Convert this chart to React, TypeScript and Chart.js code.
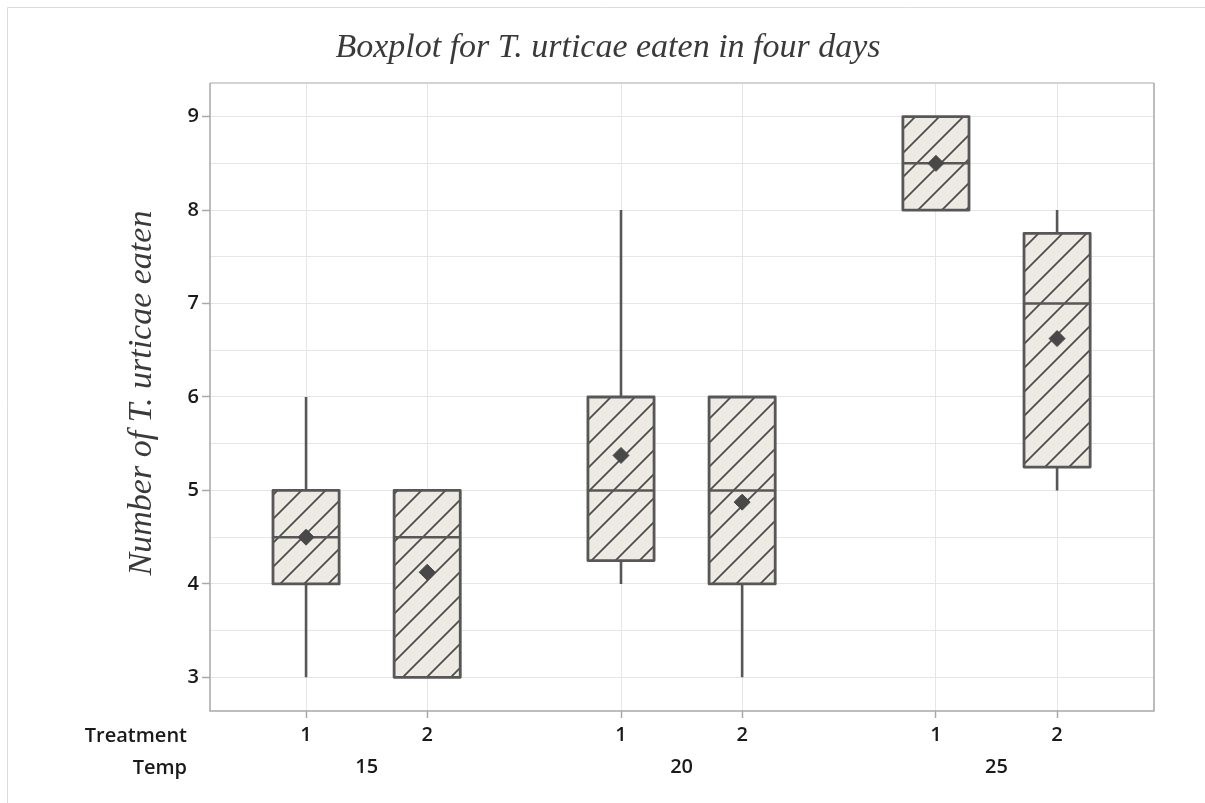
import React, { useEffect, useRef } from 'react';
import { Chart, registerables } from 'chart.js';

Chart.register(...registerables);

// ---- data ----
const temps = ['15', '20', '25'];
const treatments = ['1', '2'];
const minVals = [3, 3, 4, 3, 8, 5];
const q1Vals = [4, 3, 4.25, 4, 8, 5.25];
const medianVals = [4.5, 4.5, 5, 5, 8.5, 7];
const q3Vals = [5, 5, 6, 6, 9, 7.75];
const maxVals = [6, 5, 8, 6, 9, 8];
const meanVals = [4.5, 4.125, 5.375, 4.875, 8.5, 6.625];
const yTickValues = [3, 4, 5, 6, 7, 8, 9];

const titleText = 'Boxplot for T. urticae eaten in four days';
const yTitleText = 'Number of T. urticae eaten';
const rowLabels = ['Treatment', 'Temp'];

// ---- layout helpers ----
const GROUP_GAP = 2.6;
const BOX_HALF = 0.273;
const posOf = (i: number) => Math.floor(i / 2) * GROUP_GAP + (i % 2);
const positions = medianVals.map((_, i) => posOf(i));
const groupCenters = temps.map((_, g) => g * GROUP_GAP + 0.5);

const LINE = '#575757';
const TICK_FONT = { family: "'Open Sans', sans-serif", size: 20, weight: '600' as const };
const TICK_COLOR = '#1a1a1a';

function makePattern(ctx: CanvasRenderingContext2D) {
  const s = 24;
  const c = document.createElement('canvas');
  c.width = s;
  c.height = s;
  const g = c.getContext('2d')!;
  g.fillStyle = '#EDE9E3';
  g.fillRect(0, 0, s, s);
  g.strokeStyle = '#4a4a4a';
  g.lineWidth = 1.7;
  g.beginPath();
  g.moveTo(-2, s + 2);
  g.lineTo(s + 2, -2);
  g.moveTo(-2, 2);
  g.lineTo(2, -2);
  g.moveTo(s - 2, s + 2);
  g.lineTo(s + 2, s - 2);
  g.stroke();
  return ctx.createPattern(c, 'repeat')!;
}

const boxPlugin = {
  id: 'boxes',
  beforeDatasetsDraw(chart: any) {
    const { ctx, scales } = chart;
    const x = scales.x;
    const y = scales.y;
    const pattern = makePattern(ctx);
    ctx.save();
    medianVals.forEach((m, i) => {
      const p = positions[i];
      const l = x.getPixelForValue(p - BOX_HALF);
      const r = x.getPixelForValue(p + BOX_HALF);
      const t = y.getPixelForValue(q3Vals[i]);
      const b = y.getPixelForValue(q1Vals[i]);
      ctx.fillStyle = pattern;
      ctx.fillRect(l, t, r - l, b - t);
      ctx.lineWidth = 2.8;
      ctx.strokeStyle = LINE;
      ctx.lineJoin = 'round';
      ctx.strokeRect(l, t, r - l, b - t);
      const my = y.getPixelForValue(m);
      ctx.lineWidth = 2.5;
      ctx.beginPath();
      ctx.moveTo(l, my);
      ctx.lineTo(r, my);
      ctx.stroke();
    });
    ctx.restore();
  },
  afterDraw(chart: any) {
    const { ctx, chartArea } = chart;
    const { left, right, top, bottom } = chartArea;
    ctx.save();
    // plot frame
    ctx.lineWidth = 1.5;
    ctx.strokeStyle = '#c4c4c4';
    ctx.beginPath();
    ctx.moveTo(left, top);
    ctx.lineTo(right, top);
    ctx.stroke();
    ctx.strokeStyle = '#a8a8a8';
    ctx.beginPath();
    ctx.moveTo(left, top);
    ctx.lineTo(left, bottom);
    ctx.lineTo(right, bottom);
    ctx.lineTo(right, top);
    ctx.stroke();
    // outer figure border
    ctx.lineWidth = 1;
    ctx.strokeStyle = '#dcdcdc';
    ctx.beginPath();
    ctx.moveTo(7.5, chart.height);
    ctx.lineTo(7.5, 7.5);
    ctx.lineTo(chart.width, 7.5);
    ctx.stroke();
    // title
    ctx.fillStyle = '#3a3a3a';
    ctx.font = 'italic 34px "Liberation Serif", serif';
    ctx.textAlign = 'center';
    ctx.textBaseline = 'alphabetic';
    ctx.fillText(titleText, 608, 57);
    // y title
    ctx.save();
    ctx.translate(151, 393);
    ctx.rotate(-Math.PI / 2);
    ctx.fillText(yTitleText, 0, 0);
    ctx.restore();
    // row labels
    ctx.fillStyle = TICK_COLOR;
    ctx.font = `600 20px 'Open Sans', sans-serif`;
    ctx.textAlign = 'right';
    ctx.fillText(rowLabels[0], 187, 742);
    ctx.fillText(rowLabels[1], 187, 774);
    ctx.restore();
  },
};

export default function App() {
  const ref = useRef<HTMLCanvasElement>(null);
  useEffect(() => {
    if (!ref.current) return;
    const whiskerData: any[] = [];
    positions.forEach((p, i) => {
      if (minVals[i] < q1Vals[i]) {
        whiskerData.push({ x: p, y: minVals[i] }, { x: p, y: q1Vals[i] }, { x: p, y: null });
      }
      if (maxVals[i] > q3Vals[i]) {
        whiskerData.push({ x: p, y: q3Vals[i] }, { x: p, y: maxVals[i] }, { x: p, y: null });
      }
    });
    const meanData = positions.map((p, i) => ({ x: p, y: meanVals[i] }));

    const chart = new Chart(ref.current, {
      type: 'scatter',
      data: {
        datasets: [
          {
            label: 'whiskers',
            data: whiskerData,
            showLine: true,
            spanGaps: false,
            borderColor: LINE,
            borderWidth: 2.6,
            pointRadius: 0,
            pointHoverRadius: 0,
          } as any,
          {
            label: 'mean',
            data: meanData,
            pointStyle: 'rectRot',
            pointRadius: 8,
            backgroundColor: '#484848',
            borderColor: '#484848',
            borderWidth: 1,
          } as any,
        ],
      },
      options: {
        animation: false,
        responsive: false,
        devicePixelRatio: 1,
        layout: { padding: { top: 83, right: 51, bottom: 12, left: 0 } },
        plugins: { legend: { display: false }, tooltip: { enabled: false }, title: { display: false } },
        scales: {
          x: {
            type: 'linear',
            position: 'bottom',
            weight: 0,
            min: -0.793,
            max: 7.0,
            afterBuildTicks: (s: any) => {
              s.ticks = positions.map((v) => ({ value: v }));
            },
            afterFit: (s: any) => {
              s.height = 40;
            },
            ticks: {
              autoSkip: false,
              maxRotation: 0,
              padding: 5,
              color: TICK_COLOR,
              font: TICK_FONT,
              callback: (v: any) => {
                const i = positions.findIndex((p) => Math.abs(p - v) < 1e-6);
                return i >= 0 ? treatments[i % 2] : '';
              },
            },
            grid: { color: '#e6e6e6', lineWidth: 1, tickLength: 7, tickColor: '#a8a8a8', tickWidth: 1.5 },
            border: { display: false },
          },
          x2: {
            type: 'linear',
            position: 'bottom',
            weight: 1,
            min: -0.793,
            max: 7.0,
            afterBuildTicks: (s: any) => {
              s.ticks = groupCenters.map((v) => ({ value: v }));
            },
            afterFit: (s: any) => {
              s.height = 40;
            },
            ticks: {
              autoSkip: false,
              maxRotation: 0,
              padding: 4,
              color: TICK_COLOR,
              font: TICK_FONT,
              callback: (v: any) => {
                const g = groupCenters.findIndex((c) => Math.abs(c - v) < 1e-6);
                return g >= 0 ? temps[g] : '';
              },
            },
            grid: { display: false, drawTicks: false },
            border: { display: false },
          },
          y: {
            type: 'linear',
            position: 'left',
            min: 2.64,
            max: 9.36,
            afterBuildTicks: (s: any) => {
              const t: any[] = [];
              for (let v = 3; v <= 9; v += 0.5) t.push({ value: v });
              s.ticks = t;
            },
            afterFit: (s: any) => {
              s.width = 210;
            },
            ticks: {
              padding: 3,
              color: TICK_COLOR,
              font: TICK_FONT,
              callback: (v: any) => (yTickValues.includes(v) ? String(v) : ''),
            },
            grid: {
              color: '#e6e6e6',
              lineWidth: 1,
              tickLength: 8,
              tickWidth: 1.5,
              tickColor: (c: any) => (c.tick && yTickValues.includes(c.tick.value) ? '#a8a8a8' : 'rgba(0,0,0,0)'),
            },
            border: { display: false },
          },
        },
      },
      plugins: [boxPlugin],
    } as any);
    return () => chart.destroy();
  }, []);

  return (
    <div style={{ position: 'absolute', left: 0, top: 0, width: 1205, height: 803, background: '#fff' }}>
      <canvas ref={ref} width={1205} height={803} style={{ display: 'block' }} />
    </div>
  );
}
